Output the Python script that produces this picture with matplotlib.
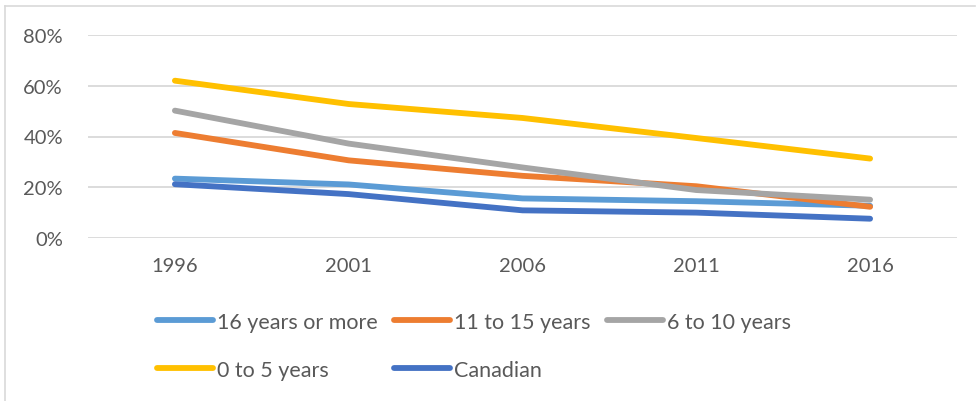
import matplotlib
matplotlib.use("Agg")
import matplotlib.pyplot as plt
from matplotlib.lines import Line2D
from matplotlib.ticker import PercentFormatter

# Datos (porcentaje)
anios = ["1996", "2001", "2006", "2011", "2016"]
anios_16_mas = [23.4, 21.1, 15.6, 14.5, 12.7]
anios_11_15 = [41.4, 30.6, 24.5, 20.4, 12.3]
anios_6_10 = [50.2, 37.2, 27.8, 18.9, 15.1]
anios_0_5 = [62.0, 52.8, 47.3, 39.4, 31.3]
canadiense = [21.2, 17.3, 10.9, 10.0, 7.6]

series = [
    ("16 years or more", anios_16_mas, "#5B9BD5"),
    ("11 to 15 years", anios_11_15, "#ED7D31"),
    ("6 to 10 years", anios_6_10, "#A5A5A5"),
    ("0 to 5 years", anios_0_5, "#FFC000"),
    ("Canadian", canadiense, "#4472C4"),
]

plt.rcParams['font.family'] = ['Lato', 'DejaVu Sans']
texto = "#595959"

fig = plt.figure(figsize=(9.77, 4.02), dpi=100)
ax = fig.add_axes([88 / 977, 1 - 239 / 402, 869 / 977, 203 / 402])

x = list(range(len(anios)))
lineas = []
for nombre, valores, color in series:
    l, = ax.plot(x, valores, color=color, linewidth=4.2, label=nombre,
                 solid_capstyle='round', solid_joinstyle='round')
    lineas.append(l)

ax.set_xlim(-0.5, len(anios) - 0.5)
ax.set_ylim(0, 80)
ax.set_yticks([0, 20, 40, 60, 80])
ax.yaxis.set_major_formatter(PercentFormatter(decimals=0))
ax.set_xticks(x)
ax.set_xticklabels(anios)
ax.grid(axis='y', color="#D9D9D9", linewidth=1.3)
ax.set_axisbelow(True)
for s in ax.spines.values():
    s.set_visible(False)
ax.tick_params(axis='both', length=0, labelsize=14.5, colors=texto)
ax.tick_params(axis='y', pad=18)
ax.tick_params(axis='x', pad=14)

# Marco del grafico
fig.add_artist(Line2D([5 / 977, 975 / 977], [1 - 7 / 402, 1 - 7 / 402],
                      color="#D9D9D9", linewidth=1.2))
fig.add_artist(Line2D([5 / 977, 5 / 977], [0, 1 - 7 / 402],
                      color="#D9D9D9", linewidth=1.2))

# Leyenda por filas como en Excel
orden = [0, 3, 1, 4, 2]
fig.legend([lineas[i] for i in orden], [series[i][0] for i in orden],
           loc='upper left', bbox_to_anchor=(157 / 977, 1 - 313 / 402),
           ncol=3, frameon=False, fontsize=15.5, labelcolor=texto,
           handlelength=2.6, handletextpad=0.2, columnspacing=0.75,
           labelspacing=1.3, borderpad=0, borderaxespad=0)

fig.savefig("out.png", dpi=100)
